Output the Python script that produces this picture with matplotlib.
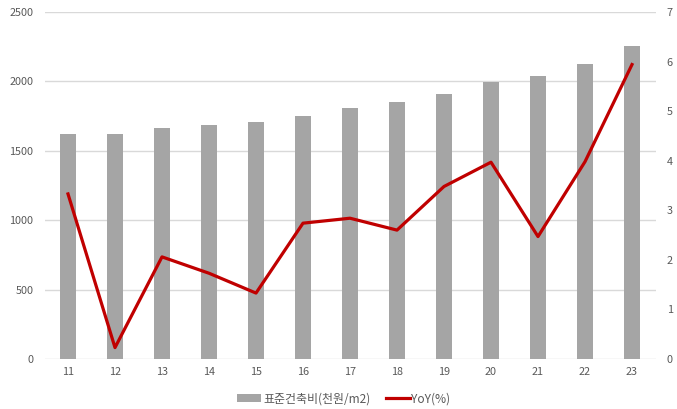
import matplotlib
matplotlib.use("Agg")
import matplotlib.pyplot as plt
from matplotlib.lines import Line2D
from matplotlib.patches import Patch

plt.rcParams['font.family'] = ['Noto Sans CJK KR', 'DejaVu Sans']

years = ['11', '12', '13', '14', '15', '16', '17', '18', '19', '20', '21', '22', '23']
cost = [1622, 1622, 1661, 1683, 1706, 1751, 1810, 1852, 1910, 1998, 2041, 2126, 2256]
yoy = [3.33, 0.23, 2.06, 1.73, 1.33, 2.74, 2.84, 2.60, 3.48, 3.97, 2.47, 3.98, 5.94]
left_ticks = [0, 500, 1000, 1500, 2000, 2500]
right_ticks = [0, 1, 2, 3, 4, 5, 6, 7]

bar_color = '#A5A5A5'
line_color = '#C00000'
text_color = '#595959'

fig = plt.figure(figsize=(6.77, 4.09), dpi=100)
ax = fig.add_axes([44.5 / 677, 1 - 359 / 409, 611 / 677, 347 / 409])
ax2 = ax.twinx()

x = list(range(len(years)))
ax.bar(x, cost, width=0.34, color=bar_color, zorder=2)
ax2.plot(x, yoy, color=line_color, linewidth=2.3, zorder=3)

ax.set_xlim(-0.5, len(years) - 0.5)
ax.set_ylim(0, 2500)
ax2.set_ylim(0, 7)
ax.set_yticks(left_ticks)
ax2.set_yticks(right_ticks)
ax.set_xticks(x)
ax.set_xticklabels(years)

ax.grid(axis='y', color='#D9D9D9', linewidth=1.0, zorder=0)
ax.set_axisbelow(True)
for a in (ax, ax2):
    for s in a.spines.values():
        s.set_visible(False)
    a.tick_params(length=0, labelsize=7.8, colors=text_color)
ax.tick_params(axis='y', pad=8)
ax2.tick_params(axis='y', pad=8)
ax.tick_params(axis='x', pad=6)

handles = [Patch(facecolor=bar_color, edgecolor='none'),
           Line2D([0], [0], color=line_color, linewidth=2.3)]
labels = ['표준건축비(천원/m2)', 'YoY(%)']
fig.legend(handles, labels, loc='center', bbox_to_anchor=(0.508, 1 - 399 / 409),
           ncol=2, frameon=False, fontsize=8.6, labelcolor=text_color,
           handlelength=2.0, handleheight=0.6, columnspacing=1.3, handletextpad=0.15)

fig.savefig('out.png', dpi=100)
